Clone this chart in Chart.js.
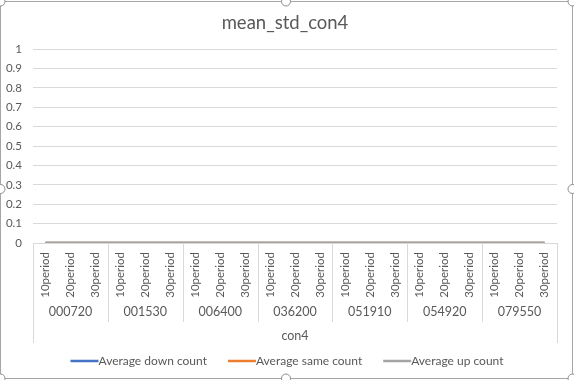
<!DOCTYPE html>
<html>
<head>
<meta charset="utf-8">
<script src="https://cdn.jsdelivr.net/npm/chart.js@4/dist/chart.umd.min.js"></script>
<style>
  html, body { margin: 0; padding: 0; background: #fff; }
  #wrap { width: 574px; height: 380px; position: relative; }
</style>
</head>
<body>
<div id="wrap"><canvas id="c" width="574" height="380"></canvas></div>
<script>
const chartTitle = 'mean_std_con4';
const groups = ['000720', '001530', '006400', '036200', '051910', '054920', '079550'];
const periods = ['10period', '20period', '30period'];
const xAxisTitle = 'con4';
const categories = [
  '000720 10period', '000720 20period', '000720 30period',
  '001530 10period', '001530 20period', '001530 30period',
  '006400 10period', '006400 20period', '006400 30period',
  '036200 10period', '036200 20period', '036200 30period',
  '051910 10period', '051910 20period', '051910 30period',
  '054920 10period', '054920 20period', '054920 30period',
  '079550 10period', '079550 20period', '079550 30period'
];
const downCount = [0,0,0, 0,0,0, 0,0,0, 0,0,0, 0,0,0, 0,0,0, 0,0,0];
const sameCount = [0,0,0, 0,0,0, 0,0,0, 0,0,0, 0,0,0, 0,0,0, 0,0,0];
const upCount   = [0,0,0, 0,0,0, 0,0,0, 0,0,0, 0,0,0, 0,0,0, 0,0,0];
const seriesNames = ['Average down count', 'Average same count', 'Average up count'];
const yTicks = [0, 0.1, 0.2, 0.3, 0.4, 0.5, 0.6, 0.7, 0.8, 0.9, 1];
const yTickLabels = ['0', '0.1', '0.2', '0.3', '0.4', '0.5', '0.6', '0.7', '0.8', '0.9', '1'];

const FONT = 'Lato, "Open Sans", sans-serif';
const TXT = '#595959';
const GRID = '#D9D9D9';

const decor = {
  id: 'decor',
  afterDraw(chart) {
    const ctx = chart.ctx;
    const xs = chart.scales.x;
    const area = chart.chartArea;
    ctx.save();
    // title
    ctx.fillStyle = TXT;
    ctx.font = '18.5px ' + FONT;
    ctx.textAlign = 'center';
    ctx.textBaseline = 'middle';
    ctx.fillText(chartTitle, 285, 23);

    // category labels (rotated)
    ctx.font = '11.5px ' + FONT;
    categories.forEach((c, i) => {
      const x = xs.getPixelForValue(i);
      ctx.save();
      ctx.translate(x, 252);
      ctx.rotate(-Math.PI / 2);
      ctx.textAlign = 'right';
      ctx.textBaseline = 'middle';
      ctx.fillText(periods[i % periods.length], 0, 0);
      ctx.restore();
    });

    // group separators and labels
    ctx.strokeStyle = GRID;
    ctx.lineWidth = 1;
    const n = periods.length;
    const bounds = [area.left];
    for (let g = 1; g < groups.length; g++) {
      bounds.push((xs.getPixelForValue(g * n - 1) + xs.getPixelForValue(g * n)) / 2);
    }
    bounds.push(area.right);
    bounds.forEach((b, k) => {
      const outer = (k === 0 || k === bounds.length - 1);
      const xx = Math.round(b) + 0.5;
      ctx.beginPath();
      ctx.moveTo(xx, area.bottom);
      ctx.lineTo(xx, outer ? 343 : 322);
      ctx.stroke();
    });
    ctx.font = '12.5px ' + FONT;
    ctx.textAlign = 'center';
    ctx.textBaseline = 'middle';
    groups.forEach((g, k) => {
      ctx.fillText(g, (bounds[k] + bounds[k + 1]) / 2, 312);
    });
    // axis title
    ctx.fillText(xAxisTitle, (area.left + area.right) / 2, 336);

    // legend
    ctx.font = '12px ' + FONT;
    const lineLen = 28, gap = 21;
    const items = chart.data.datasets.map(d => ({ label: d.label, color: d.borderColor, w: ctx.measureText(d.label).width }));
    let total = items.reduce((s, it) => s + lineLen + it.w, 0) + gap * (items.length - 1);
    let lx = 287 - total / 2;
    const ly = 361;
    items.forEach(it => {
      ctx.strokeStyle = it.color;
      ctx.lineWidth = 2.5;
      ctx.beginPath();
      ctx.moveTo(lx, ly);
      ctx.lineTo(lx + lineLen, ly);
      ctx.stroke();
      ctx.fillStyle = TXT;
      ctx.textAlign = 'left';
      ctx.fillText(it.label, lx + lineLen, ly);
      lx += lineLen + it.w + gap;
    });

    // chart frame with selection handles
    ctx.strokeStyle = '#A6A6A6';
    ctx.lineWidth = 1;
    ctx.strokeRect(0.5, 1.5, 572, 377);
    const handles = [[0.5, 1.5], [286, 1.5], [572.5, 1.5], [0.5, 189], [572.5, 189], [0.5, 378.5], [286, 378.5], [572.5, 378.5]];
    handles.forEach(([hx, hy]) => {
      ctx.beginPath();
      ctx.arc(hx, hy, 4.5, 0, Math.PI * 2);
      ctx.fillStyle = '#fff';
      ctx.fill();
      ctx.strokeStyle = '#8C8C8C';
      ctx.stroke();
    });
    ctx.restore();
  }
};

new Chart(document.getElementById('c'), {
  type: 'line',
  data: {
    labels: categories,
    datasets: [
      { label: seriesNames[0], data: downCount, borderColor: '#4472C4', backgroundColor: '#4472C4', order: 2 },
      { label: seriesNames[1], data: sameCount, borderColor: '#ED7D31', backgroundColor: '#ED7D31', order: 1 },
      { label: seriesNames[2], data: upCount, borderColor: '#A5A5A5', backgroundColor: '#A5A5A5', order: 0 }
    ]
  },
  options: {
    responsive: false,
    animation: false,
    devicePixelRatio: 1,
    layout: { padding: { top: 49, left: 0, right: 17, bottom: 137 } },
    elements: { point: { radius: 0 }, line: { borderWidth: 2.5, tension: 0 } },
    plugins: { legend: { display: false }, title: { display: false }, tooltip: { enabled: false } },
    scales: {
      x: { type: 'category', display: false, offset: true },
      y: {
        min: 0, max: 1,
        afterBuildTicks(scale) { scale.ticks = yTicks.map(v => ({ value: v })); },
        afterFit(scale) { scale.width = 33; },
        border: { display: false },
        grid: { color: GRID, lineWidth: 1, drawTicks: false },
        ticks: {
          padding: 11, color: TXT, font: { family: FONT, size: 11.5 },
          callback(value, index) { return yTickLabels[index]; }
        }
      }
    }
  },
  plugins: [decor]
});
</script>
</body>
</html>
